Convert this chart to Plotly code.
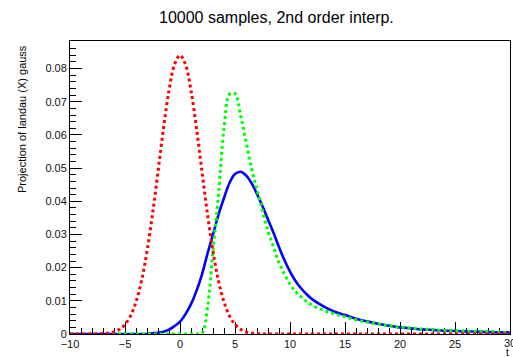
import plotly.graph_objects as go

# Sample positions along t
t = [-10, -9.5, -9, -8.5, -8, -7.5, -7, -6.5, -6, -5.5, -5, -4.5, -4, -3.5, -3,
     -2.5, -2, -1.5, -1, -0.5, 0, 0.5, 1, 1.5, 2, 2.5, 3, 3.5, 4, 4.5, 5, 5.5,
     6, 6.5, 7, 7.5, 8, 8.5, 9, 9.5, 10, 10.5, 11, 11.5, 12,
     13, 14, 15, 16, 17, 18, 19, 20, 21, 22, 23, 24, 25, 26, 27, 28, 29, 30]

# Gaussian resolution component
gauss = [0, 0, 0, 0, 0.00001, 0.00004, 0.00011, 0.00028, 0.00065, 0.0014, 0.0029,
         0.0054, 0.0097, 0.0160, 0.0249, 0.0361, 0.0489, 0.0620, 0.0734, 0.0812,
         0.0840, 0.0812, 0.0734, 0.0620, 0.0489, 0.0361, 0.0249, 0.0160, 0.0097,
         0.0054, 0.0029, 0.0014, 0.00065, 0.00028, 0.00011, 0.00004, 0.00001,
         0, 0, 0, 0, 0, 0, 0, 0,
         0, 0, 0, 0, 0, 0, 0, 0, 0, 0, 0, 0, 0, 0, 0, 0, 0, 0]

# Landau component
landau = [0, 0, 0, 0, 0, 0, 0, 0, 0, 0, 0, 0, 0, 0, 0,
          0, 0, 0, 0, 0, 0, 0, 0, 0, 0.0002, 0.0080, 0.0250, 0.0420, 0.0620,
          0.0722, 0.0725, 0.0660, 0.0580, 0.0500, 0.0435, 0.0372, 0.0310, 0.0262,
          0.0215, 0.0180, 0.0150, 0.0128, 0.0112, 0.0098, 0.0087,
          0.0072, 0.0061, 0.0052, 0.0043, 0.0036, 0.0030, 0.0025, 0.0021, 0.0018,
          0.0015, 0.0013, 0.0011, 0.0010, 0.0009, 0.0008, 0.0007, 0.0006, 0.0005]

# Landau (X) Gauss convolution
conv = [0, 0, 0, 0, 0, 0, 0, 0, 0, 0, 0, 0, 0, 0, 0,
        0.0002, 0.0004, 0.0007, 0.0013, 0.0024, 0.0037, 0.0060, 0.0090, 0.0130,
        0.0180, 0.0242, 0.0300, 0.0360, 0.0410, 0.0455, 0.0482, 0.0489, 0.0478,
        0.0455, 0.0422, 0.0385, 0.0345, 0.0305, 0.0262, 0.0222, 0.0188, 0.0160,
        0.0138, 0.0120, 0.0105,
        0.0084, 0.0068, 0.0057, 0.0046, 0.0038, 0.0031, 0.0025, 0.0020, 0.0017,
        0.0014, 0.0012, 0.0010, 0.0009, 0.0008, 0.0007, 0.0006, 0.0005, 0.0005]

y_ticks = [0, 0.01, 0.02, 0.03, 0.04, 0.05, 0.06, 0.07, 0.08]
x_ticks = [-10, -5, 0, 5, 10, 15, 20, 25, 30]

FONT = "Liberation Sans, Arial, sans-serif"

fig = go.Figure()
fig.add_trace(go.Scatter(x=t, y=conv, mode="lines", line=dict(color="#0000ff", width=2.6, shape="spline")))
fig.add_trace(go.Scatter(x=t, y=landau, mode="lines",
                         line=dict(color="#00ff00", width=3, dash="3px,3px", shape="spline")))
fig.add_trace(go.Scatter(x=t, y=gauss, mode="lines",
                         line=dict(color="#ff0000", width=3, dash="3px,3px", shape="spline")))

# plot area spans x 70..510 px, y 41..334 px
L, R, T, B = 70, 3, 41, 23
W, H = 513, 357
pw, ph = W - L - R, H - T - B


def px_x(px):
    return (px - L) / pw


def px_y(py):
    return (H - B - py) / ph


fig.update_layout(
    width=W, height=H,
    margin=dict(l=L, r=R, t=T, b=B),
    paper_bgcolor="white", plot_bgcolor="white",
    showlegend=False,
    font=dict(family=FONT, size=11, color="#111"),
    xaxis=dict(
        range=[-10, 30], tickvals=x_ticks, ticks="inside", ticklen=12, tickwidth=1,
        tickcolor="black", showline=True, linecolor="black", linewidth=1, mirror=True,
        showgrid=False, zeroline=False, layer="below traces",
        minor=dict(ticks="inside", ticklen=6, dtick=1, tickcolor="black", tickwidth=1),
        tickfont=dict(size=11),
    ),
    yaxis=dict(
        range=[0, 0.0883], tickvals=y_ticks, ticks="inside", ticklen=12, tickwidth=1,
        tickcolor="black", showline=True, linecolor="black", linewidth=1, mirror=True,
        showgrid=False, zeroline=False, layer="below traces",
        minor=dict(ticks="inside", ticklen=6, dtick=0.002, tickcolor="black", tickwidth=1),
        tickfont=dict(size=11),
    ),
    annotations=[
        dict(text="10000 samples, 2nd order interp.", xref="paper", yref="paper",
             x=px_x(276), y=px_y(18), xanchor="center", yanchor="middle",
             showarrow=False, font=dict(size=16, color="black")),
        dict(text="Projection of landau (X) gauss", xref="paper", yref="paper",
             x=px_x(22), y=px_y(43), xanchor="center", yanchor="top", textangle=-90,
             showarrow=False, font=dict(size=11, color="black")),
        # last tick label sits on the right edge of the canvas
        dict(text=str(x_ticks[-1]), xref="x", yref="paper",
             x=x_ticks[-1], y=px_y(343), xanchor="center", yanchor="middle",
             showarrow=False, font=dict(size=11, color="#111")),
        dict(text="t", xref="paper", yref="paper",
             x=px_x(511), y=px_y(352), xanchor="right", yanchor="middle",
             showarrow=False, font=dict(size=10, color="black")),
    ],
)

fig.write_html("out.html")
